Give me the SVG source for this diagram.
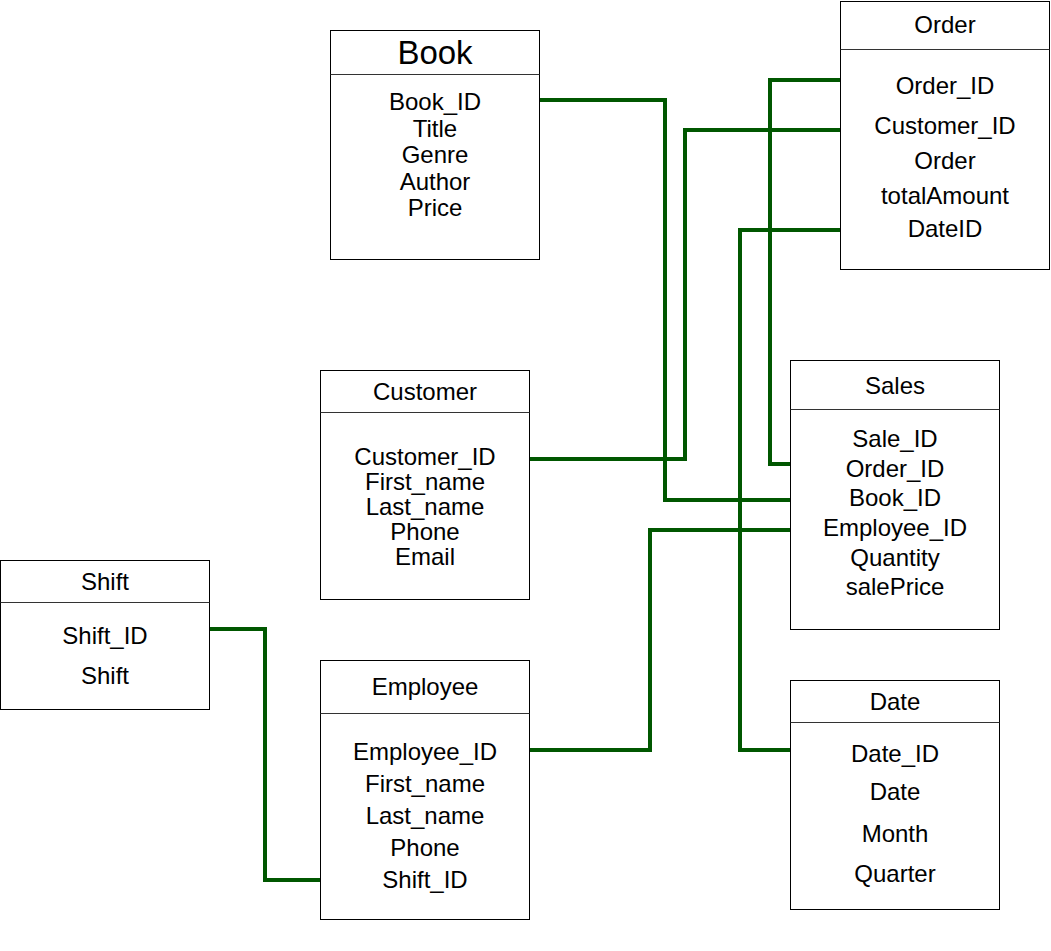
<svg xmlns="http://www.w3.org/2000/svg" width="1051" height="951" viewBox="0 0 1051 951">
<style>
.box{fill:#fff;stroke:#000;stroke-width:1}
.sep{stroke:#333;stroke-width:1}
text{font-family:"Liberation Sans",Arial,sans-serif;font-size:24px;fill:#000;text-anchor:middle}
.big{font-size:33px}
.conn{fill:none;stroke:#005700;stroke-width:4}
</style>
<rect width="1051" height="951" fill="#fff"/>
<g id="connectors">
<path class="conn" d="M540,100 H665 V500 H790"/>
<path class="conn" d="M530,459 H685 V130 H840"/>
<path class="conn" d="M840,80 H770 V464 H790"/>
<path class="conn" d="M842,230 H740 V750 H790"/>
<path class="conn" d="M530,750 H650 V530 H790"/>
<path class="conn" d="M210,629 H265 V880 H320"/>
</g>
<g id="order">
<rect class="box" x="840.5" y="1.5" width="209" height="268"/>
<line class="sep" x1="840.5" y1="49.5" x2="1049.5" y2="49.5"/>
<text x="945" y="33">Order</text>
<text x="945" y="94">Order_ID</text>
<text x="945" y="134">Customer_ID</text>
<text x="945" y="169">Order</text>
<text x="945" y="204">totalAmount</text>
<text x="945" y="237">DateID</text>
</g>
<g id="book">
<rect class="box" x="330.5" y="30.5" width="209" height="229"/>
<line class="sep" x1="330.5" y1="74.5" x2="539.5" y2="74.5"/>
<text class="big" x="435" y="64">Book</text>
<text x="435" y="110">Book_ID</text>
<text x="435" y="137">Title</text>
<text x="435" y="163">Genre</text>
<text x="435" y="190">Author</text>
<text x="435" y="216">Price</text>
</g>
<g id="customer">
<rect class="box" x="320.5" y="370.5" width="209" height="229"/>
<line class="sep" x1="320.5" y1="412.5" x2="529.5" y2="412.5"/>
<text x="425" y="400">Customer</text>
<text x="425" y="465">Customer_ID</text>
<text x="425" y="490">First_name</text>
<text x="425" y="515">Last_name</text>
<text x="425" y="540">Phone</text>
<text x="425" y="565">Email</text>
</g>
<g id="sales">
<rect class="box" x="790.5" y="360.5" width="209" height="269"/>
<line class="sep" x1="790.5" y1="409.5" x2="999.5" y2="409.5"/>
<text x="895" y="394">Sales</text>
<text x="895" y="447">Sale_ID</text>
<text x="895" y="477">Order_ID</text>
<text x="895" y="506">Book_ID</text>
<text x="895" y="536">Employee_ID</text>
<text x="895" y="566">Quantity</text>
<text x="895" y="595">salePrice</text>
</g>
<g id="shift">
<rect class="box" x="0.5" y="560.5" width="209" height="149"/>
<line class="sep" x1="0.5" y1="602.5" x2="209.5" y2="602.5"/>
<text x="105" y="590">Shift</text>
<text x="105" y="644">Shift_ID</text>
<text x="105" y="684">Shift</text>
</g>
<g id="employee">
<rect class="box" x="320.5" y="660.5" width="209" height="259"/>
<line class="sep" x1="320.5" y1="713.5" x2="529.5" y2="713.5"/>
<text x="425" y="695">Employee</text>
<text x="425" y="760">Employee_ID</text>
<text x="425" y="792">First_name</text>
<text x="425" y="824">Last_name</text>
<text x="425" y="856">Phone</text>
<text x="425" y="888">Shift_ID</text>
</g>
<g id="date">
<rect class="box" x="790.5" y="680.5" width="209" height="229"/>
<line class="sep" x1="790.5" y1="722.5" x2="999.5" y2="722.5"/>
<text x="895" y="710">Date</text>
<text x="895" y="762">Date_ID</text>
<text x="895" y="800">Date</text>
<text x="895" y="842">Month</text>
<text x="895" y="882">Quarter</text>
</g>
</svg>
